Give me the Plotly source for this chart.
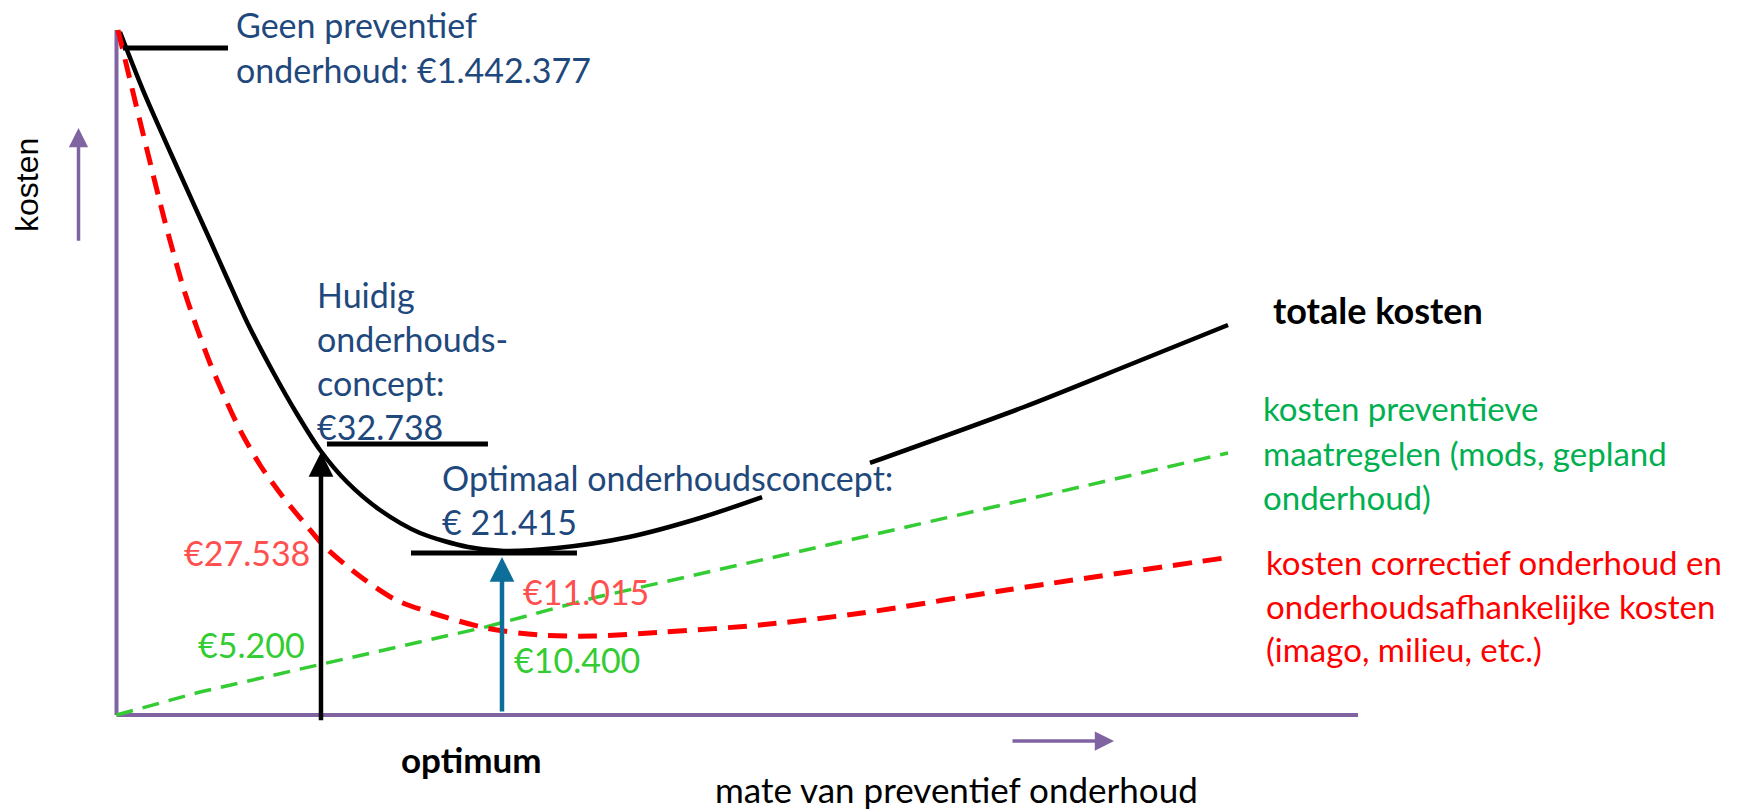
import plotly.graph_objects as go

# ---------------- data (x: mate van preventief onderhoud 0-100, y: kosten 0-100) -------------
total_x = [0.28, 2.13, 4.87, 7.53, 8.90, 10.51, 12.61, 14.54, 16.39, 18.57, 21.22, 24.45, 28.31,
           31.21, 35.48, 41.28, 47.0, 52.0, None, 60.69, 73.09, 81.55, 89.53]
total_y = [99.71, 91.24, 80.0, 69.34, 63.80, 57.37, 50.07, 43.94, 38.69, 34.01, 29.93, 26.57, 24.53,
           23.94, 24.38, 25.99, 28.76, 31.82, None, 36.79, 44.96, 51.09, 56.93]

corr_x = [0.12, 1.09, 2.46, 3.91, 5.44, 6.48, 7.53, 8.74, 9.95, 11.56, 13.41, 15.26, 16.79, 19.69,
          22.51, 25.41, 29.76, 34.03, 38.38, 44.1, 51.83, 60.05, 71.7, 89.78]
corr_y = [100.0, 92.70, 82.48, 71.97, 62.04, 56.50, 51.39, 46.28, 41.61, 36.50, 31.82, 27.74, 24.53,
          20.15, 16.79, 14.89, 12.70, 11.68, 11.53, 12.12, 13.14, 14.89, 18.25, 23.07]

prev_x = [0.0, 6.73, 16.23, 29.76, 38.38, 51.83, 59.08, 89.53]
prev_y = [0.0, 3.36, 7.30, 12.85, 17.08, 22.63, 25.55, 38.25]

# horizontal level markers (geen preventief, huidig, optimaal)
level_x0 = [0.52, 16.95, 23.72]
level_x1 = [8.98, 29.92, 37.09]
level_y = [97.37, 39.56, 23.65]

# vertical arrows (huidig, optimum)
arrow_x = [16.47, 31.05]
arrow_base = [-1.0, 0.29]
arrow_top = [38.39, 23.07]
arrow_colors = ["#000000", "#0E6E9A"]

# texts
geen_lines = ["Geen preventief", "onderhoud: €1.442.377"]
huidig_lines = ["Huidig", "onderhouds-", "concept:", "€32.738"]
optimaal_lines = ["Optimaal onderhoudsconcept:", "€ 21.415"]
corr_values = ["€27.538", "€11.015"]
prev_values = ["€5.200", "€10.400"]
prev_legend = ["kosten preventieve", "maatregelen (mods, gepland", "onderhoud)"]
corr_legend = ["kosten correctief onderhoud en", "onderhoudsafhankelijke kosten", "(imago, milieu, etc.)"]

# ---------------- figure ----------------
W, H = 1755, 812
PURPLE = "#8064A2"
NAVY = "#1F497D"
FONT = "Lato"
FS = 34

fig = go.Figure()

# axes
fig.add_shape(type="line", x0=0, y0=0, x1=100, y1=0, line=dict(color=PURPLE, width=4), layer="below")
fig.add_shape(type="line", x0=0, y0=0, x1=0, y1=100, line=dict(color=PURPLE, width=4), layer="below")

fig.add_trace(go.Scatter(x=prev_x, y=prev_y, mode="lines",
                         line=dict(color="#33CC33", width=3.5, dash="17px,10px")))
fig.add_trace(go.Scatter(x=total_x, y=total_y, mode="lines", line_shape="spline",
                         line=dict(color="#000000", width=4.5, smoothing=0.8), connectgaps=False))
fig.add_trace(go.Scatter(x=corr_x, y=corr_y, mode="lines", line_shape="spline",
                         line=dict(color="#FF0000", width=5, dash="19px,11px", smoothing=0.8)))

for x0, x1, y in zip(level_x0, level_x1, level_y):
    fig.add_trace(go.Scatter(x=[x0, x1], y=[y, y], mode="lines",
                             line=dict(color="#000000", width=5)))

for x, b, t, c in zip(arrow_x, arrow_base, arrow_top, arrow_colors):
    fig.add_annotation(x=x, y=t, ax=x, ay=b, xref="x", yref="y", axref="x", ayref="y",
                       text="", showarrow=True, arrowhead=2, arrowsize=1.1,
                       arrowwidth=4.5, arrowcolor=c)


def P(fx, fy):
    return fx / W, 1 - fy / H


def label(text, fx, fbase, color, size=FS, anchor="left", bold=False, family=FONT):
    px, py = P(fx, fbase - 0.32 * size)
    t = f"<b>{text}</b>" if bold else text
    fig.add_annotation(x=px, y=py, xref="paper", yref="paper", text=t, showarrow=False,
                       xanchor=anchor, yanchor="middle",
                       font=dict(family=family, size=size, color=color))


for i, s in enumerate(geen_lines):
    label(s, 234, 35 + 45 * i, NAVY)
for i, s in enumerate(huidig_lines):
    label(s, 315, 305 + 44 * i, NAVY)
for i, s in enumerate(optimaal_lines):
    label(s, 440, 488 + 44 * i, NAVY)

label(corr_values[0], 312, 563, "#FF5050", anchor="right")
label(corr_values[1], 521, 602, "#FF5050")
label(prev_values[0], 307, 655, "#33CC33", anchor="right")
label(prev_values[1], 512, 670, "#33CC33")

label("totale kosten", 1271, 322, "#000000", size=36, bold=True)
for i, s in enumerate(prev_legend):
    label(s, 1261, 419 + 44.5 * i, "#00B050", size=33)
for i, s in enumerate(corr_legend):
    label(s, 1264, 573 + 43.5 * i, "#FF0000", size=33)

label("optimum", 471, 770, "#000000", size=35, anchor="center", bold=True)

# axis title along the bottom edge
fig.add_annotation(x=956 / W, y=0, xref="paper", yref="paper", text="mate van preventief onderhoud",
                   showarrow=False, xanchor="center", yanchor="bottom",
                   font=dict(family=FONT, size=35, color="#000000"))

# "kosten" rotated label
kx, ky = P(27, 185)
fig.add_annotation(x=kx, y=ky, xref="paper", yref="paper", text="kosten", showarrow=False,
                   textangle=-90, xanchor="center", yanchor="middle",
                   font=dict(family="Liberation Sans", size=32, color="#000000"))

# direction arrows (kosten up, preventief onderhoud right)
fig.add_annotation(x=-3.06, y=85.69, ax=-3.06, ay=69.0, xref="x", yref="y", axref="x", ayref="y",
                   text="", showarrow=True, arrowhead=2, arrowsize=1.1, arrowwidth=3.5,
                   arrowcolor=PURPLE)
fig.add_annotation(x=80.35, y=-3.8, ax=72.05, ay=-3.8, xref="x", yref="y", axref="x", ayref="y",
                   text="", showarrow=True, arrowhead=2, arrowsize=1.1, arrowwidth=3.5,
                   arrowcolor=PURPLE)

fig.update_layout(
    width=W, height=H, margin=dict(l=0, r=0, t=0, b=0),
    paper_bgcolor="white", plot_bgcolor="white", showlegend=False,
    xaxis=dict(range=[-116.5 / 12.415, (W - 116.5) / 12.415], visible=False, fixedrange=True),
    yaxis=dict(range=[(715 - H) / 6.85, 715 / 6.85], visible=False, fixedrange=True),
)

fig.write_html("out.html", config={"displayModeBar": False},
               post_script="document.body.style.margin='0';document.body.style.overflow='hidden';")
